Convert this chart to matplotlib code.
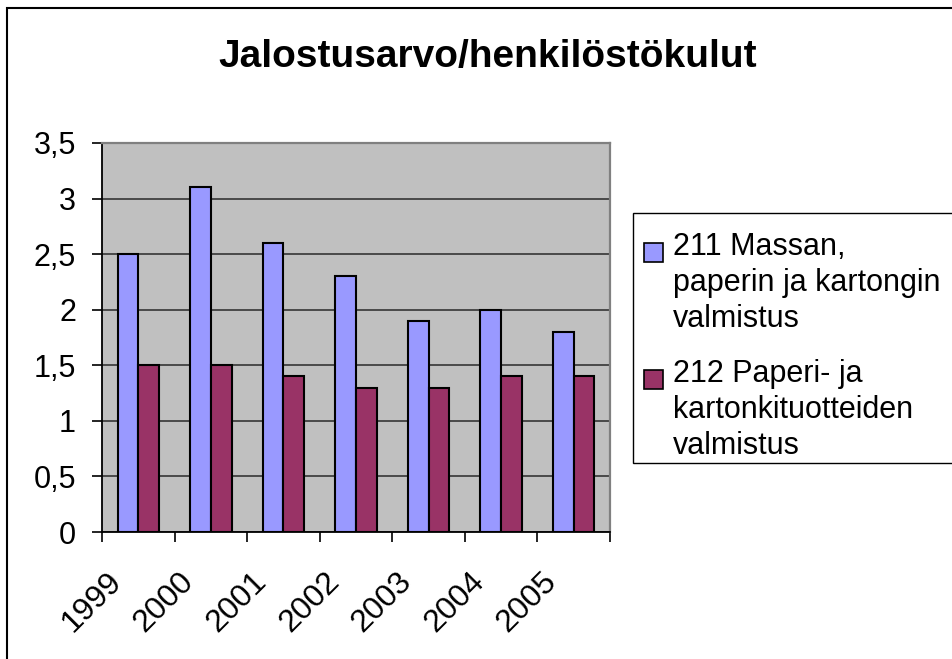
import matplotlib
matplotlib.use("Agg")
import matplotlib.pyplot as plt
import matplotlib.transforms as mtransforms
from matplotlib.patches import Rectangle
import numpy as np

# Tiedot
vuodet = ["1999", "2000", "2001", "2002", "2003", "2004", "2005"]
massa_paperi = [2.5, 3.1, 2.6, 2.3, 1.9, 2.0, 1.8]
paperituotteet = [1.5, 1.5, 1.4, 1.3, 1.3, 1.4, 1.4]
sarjat = ["211 Massan,\npaperin ja kartongin\nvalmistus",
          "212 Paperi- ja\nkartonkituotteiden\nvalmistus"]
varit = ["#9999FF", "#993366"]
y_arvot = [0, 0.5, 1, 1.5, 2, 2.5, 3, 3.5]
otsikko = "Jalostusarvo/henkilöstökulut"

plt.rcParams['font.family'] = ['Liberation Sans', 'DejaVu Sans']

W, H = 952, 659
fig = plt.figure(figsize=(W / 100, H / 100), dpi=100)


def fx(x):
    return x / W


def fy(y):
    return 1 - y / H


ax = fig.add_axes([fx(102), fy(532), fx(610) - fx(102), fy(143) - fy(532)])
ax.set_facecolor('#C0C0C0')

x = np.arange(len(vuodet))
w = 1 / 3.5
b1 = ax.bar(x - w / 2, massa_paperi, w, color=varit[0], edgecolor='black',
            linewidth=1.5, zorder=3)
b2 = ax.bar(x + w / 2, paperituotteet, w, color=varit[1], edgecolor='black',
            linewidth=1.5, zorder=3)

ax.set_xlim(-0.5, len(vuodet) - 0.5)
ax.set_ylim(0, 3.5)
ax.set_yticks(y_arvot)
ax.set_yticklabels([f"{v:g}".replace('.', ',') for v in y_arvot])
ax.yaxis.grid(True, color='#404040', linewidth=1.3)
ax.set_axisbelow(True)

# luokkien rajat isoina tikkeinä, vuodet pieninä tikkeinä keskellä
ax.set_xticks(np.arange(len(vuodet) + 1) - 0.5)
ax.set_xticklabels([])
ax.set_xticks(x, minor=True)
ax.set_xticklabels(vuodet, minor=True, rotation=45, ha='right', va='top',
                   rotation_mode='anchor', fontsize=23)
ax.tick_params(axis='x', which='major', direction='out', length=7.2,
               width=1.2, color='black')
ax.tick_params(axis='x', which='minor', length=0, pad=25)
ax.tick_params(axis='y', direction='out', length=7.2, width=1.2,
               labelsize=22, pad=11.5)
siirto = mtransforms.ScaledTranslation(-0.32, 0, fig.dpi_scale_trans)
for lab in ax.get_xticklabels(minor=True):
    lab.set_transform(lab.get_transform() + siirto)

for s in ['left', 'bottom']:
    ax.spines[s].set_color('black')
    ax.spines[s].set_linewidth(1.3)
for s in ['top', 'right']:
    ax.spines[s].set_color('#808080')
    ax.spines[s].set_linewidth(1.6)

# otsikko
fig.text(fx(488), fy(67), otsikko, ha='center', va='baseline',
         fontsize=28, fontweight='bold')

# selite
fig.patches.append(Rectangle((fx(633), fy(463)), fx(990) - fx(633),
                             fy(213) - fy(463), transform=fig.transFigure,
                             facecolor='white', edgecolor='black',
                             linewidth=1.0))
neliot = [243, 370]
for i, (nimi, palkit) in enumerate(zip(sarjat, [b1, b2])):
    top = neliot[i]
    fig.patches.append(Rectangle((fx(644), fy(top + 19)), fx(19), 19 / H,
                                 transform=fig.transFigure,
                                 facecolor=palkit.patches[0].get_facecolor(),
                                 edgecolor='black', linewidth=1.2))
    for j, rivi in enumerate(nimi.split('\n')):
        fig.text(fx(673), fy(top + 12 + 36 * j), rivi, ha='left',
                 va='baseline', fontsize=22)

# kaavion reunaviiva
fig.patches.append(Rectangle((fx(6.5), -0.1), 2.0, fy(7.5) + 0.1,
                             transform=fig.transFigure, facecolor='none',
                             edgecolor='black', linewidth=1.5))

fig.savefig("out.png", dpi=100)
